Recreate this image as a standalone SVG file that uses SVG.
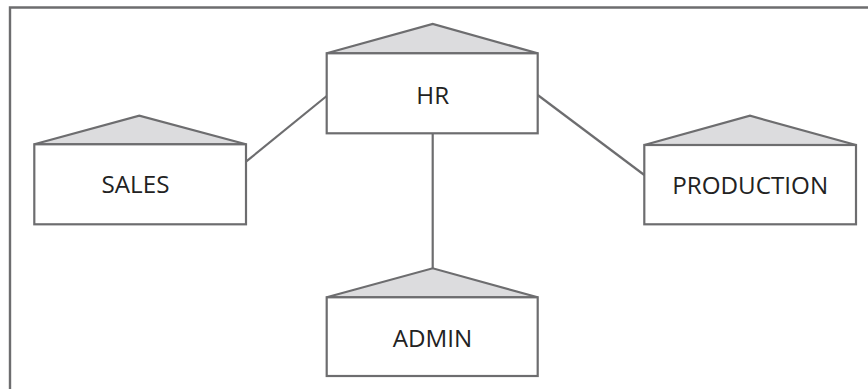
<svg xmlns="http://www.w3.org/2000/svg" width="868" height="389" viewBox="0 0 868 389">
<style>
.box{fill:#ffffff;stroke:#6d6d6f;stroke-width:2.2}
.roof{fill:#dcdcde;stroke:#6d6d6f;stroke-width:2.2;stroke-linejoin:miter}
.conn{stroke:#6d6d6f;stroke-width:2.2;fill:none}
.frame{stroke:#6d6d6f;stroke-width:2.4;fill:none}
.lbl{font-family:"Open Sans","Liberation Sans",sans-serif;font-size:24.2px;fill:#222222;text-anchor:middle}
</style>
<rect width="868" height="389" fill="#ffffff"/>
<path class="frame" d="M10,389 V7.5 H868"/>
<g id="connectors">
<line class="conn" x1="326.7" y1="96" x2="246" y2="161.7"/>
<line class="conn" x1="537.7" y1="95" x2="644.3" y2="175"/>
<line class="conn" x1="432.7" y1="133.3" x2="432.7" y2="268.3"/>
</g>
<g id="node-hr">
<polygon class="roof" points="326.7,53.3 432.7,24 537.7,53.3"/>
<rect class="box" x="326.7" y="53.3" width="211" height="80"/>
<text class="lbl" x="432.7" y="104.3">HR</text>
</g>
<g id="node-sales">
<polygon class="roof" points="34.3,144.3 139.3,115.7 246,144.3"/>
<rect class="box" x="34.3" y="144.3" width="211.7" height="80"/>
<text class="lbl" x="135.5" y="193.3">SALES</text>
</g>
<g id="node-production">
<polygon class="roof" points="644.3,145 750,115.7 856,145"/>
<rect class="box" x="644.3" y="145" width="211.7" height="79.3"/>
<text class="lbl" x="750.2" y="194.3">PRODUCTION</text>
</g>
<g id="node-admin">
<polygon class="roof" points="326.7,297.3 432.7,268.3 537.7,297.3"/>
<rect class="box" x="326.7" y="297.3" width="211" height="78.7"/>
<text class="lbl" x="432.5" y="347.3">ADMIN</text>
</g>
</svg>
